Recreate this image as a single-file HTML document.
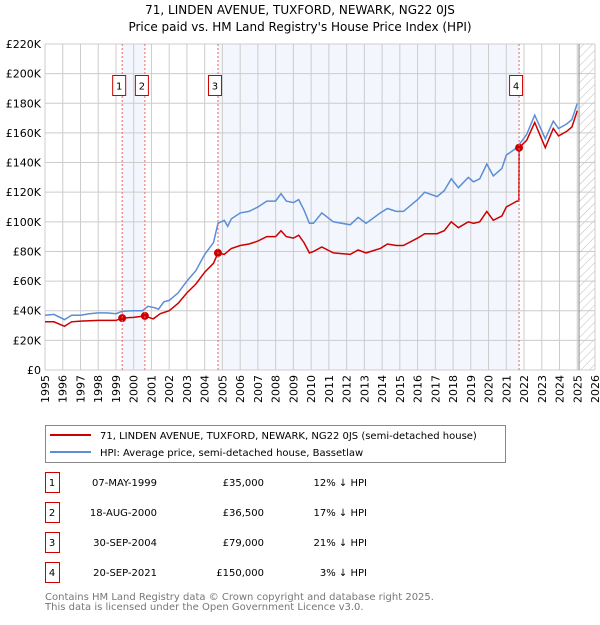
<!DOCTYPE html>
<html><head><meta charset="utf-8"><style>
body{margin:0;background:#fff;font-family:"Liberation Sans","DejaVu Sans",sans-serif;}
svg text{font-family:"DejaVu Sans","Liberation Sans",sans-serif;}
</style></head><body>
<svg id="chart" width="600" height="620" xmlns="http://www.w3.org/2000/svg">
<defs><pattern id="hatch" width="6" height="6" patternUnits="userSpaceOnUse" patternTransform="rotate(45)"><line x1="0" y1="0" x2="0" y2="6" stroke="#bbb" stroke-width="1"/></pattern></defs>
<text x="300" y="14" text-anchor="middle" font-size="12">71, LINDEN AVENUE, TUXFORD, NEWARK, NG22 0JS</text>
<text x="300" y="31" text-anchor="middle" font-size="12">Price paid vs. HM Land Registry's House Price Index (HPI)</text>
<g id="bands"></g><g id="grid"></g><g id="series"></g><g id="marks"></g>
<g>
<rect x="45.5" y="425.5" width="460" height="37" fill="#fff" stroke="#888"/>
<line x1="50" y1="435" x2="91" y2="435" stroke="#cc0000" stroke-width="2"/>
<text x="100" y="439" font-size="10">71, LINDEN AVENUE, TUXFORD, NEWARK, NG22 0JS (semi-detached house)</text>
<line x1="50" y1="452" x2="91" y2="452" stroke="#5b8ed6" stroke-width="2"/>
<text x="100" y="456" font-size="10">HPI: Average price, semi-detached house, Bassetlaw</text>
</g>
<g id="table" font-size="10"></g>
<text x="45" y="600" font-size="10" fill="#777">Contains HM Land Registry data © Crown copyright and database right 2025.</text>
<text x="45" y="610" font-size="10" fill="#777">This data is licensed under the Open Government Licence v3.0.</text>
</svg>
<script>
const hpiYears=[1995,1995.5,1996.1,1996.5,1997,1997.5,1998,1998.5,1999,1999.35,2000,2000.5,2000.8,2001.2,2001.4,2001.7,2002,2002.5,2003,2003.5,2004,2004.5,2004.75,2005.1,2005.3,2005.5,2006,2006.5,2007,2007.5,2008,2008.3,2008.6,2009,2009.3,2009.6,2009.9,2010.13,2010.6,2011.25,2012.2,2012.65,2013.1,2013.9,2014.3,2014.8,2015.2,2016,2016.4,2017.1,2017.5,2017.9,2018.3,2018.86,2019.15,2019.5,2019.9,2020.27,2020.75,2021,2021.6,2022.15,2022.6,2023.2,2023.65,2023.95,2024.4,2024.7,2025];
const hpiValues=[37,37.5,34,37,37,38,38.5,38.5,38,39.7,40,40,43,42,41,46,47,52,60,67,78,86,99,101,97,102,106,107,110,114,114,119,114,113,115,108,99,99,106,100,98,103,99,106,109,107,107,115,120,117,121,129,123,130,127,129,139,131,136,145,150,159,172,156,168,163,166,169,180];
const ppYears=[1995,1995.5,1996.1,1996.5,1997,1998,1999,1999.35,2000,2000.63,2001.1,2001.5,2002,2002.5,2003,2003.5,2004,2004.5,2004.75,2005.1,2005.5,2006,2006.5,2007,2007.5,2008,2008.3,2008.6,2009,2009.3,2009.6,2009.9,2010.13,2010.6,2011.25,2012.2,2012.65,2013.1,2013.9,2014.3,2014.8,2015.2,2016,2016.4,2017.1,2017.5,2017.9,2018.3,2018.86,2019.15,2019.5,2019.9,2020.27,2020.75,2021,2021.6,2021.71,2021.72,2022.15,2022.6,2023.2,2023.65,2023.95,2024.4,2024.7,2025];
const ppValues=[32.5,32.5,29.5,32.5,33,33.5,33.5,35,35.5,36.5,34.5,38,40,45,52,58,66,72,79,78,82,84,85,87,90,90,94,90,89,91,86,79,80,83,79,78,81,79,82,85,84,84,89,92,92,94,100,96,100,99,100,107,101,104,110,114,114,150,155,167,150,163,158,161,164,175];
const saleLabels=["1","2","3","4"];
const saleYears=[1999.35,2000.63,2004.75,2021.72];
const salePrices=[35,36.5,79,150];
const saleDates=["07-MAY-1999","18-AUG-2000","30-SEP-2004","20-SEP-2021"];
const salePriceText=["£35,000","£36,500","£79,000","£150,000"];
const saleDiff=["12% ↓ HPI","17% ↓ HPI","21% ↓ HPI","3% ↓ HPI"];
const yTicks=[0,20,40,60,80,100,120,140,160,180,200,220];
const xTicks=[];for(let y=1995;y<=2026;y++)xTicks.push(y);

const X0=45,X1=595,Y0=370,Y1=44,yr0=1995,yr1=2026,vMax=220;
const sx=y=>X0+(y-yr0)/(yr1-yr0)*(X1-X0);
const sy=v=>Y0-v/vMax*(Y0-Y1);
const NS="http://www.w3.org/2000/svg";
function mk(parent,tag,attrs){const e=document.createElementNS(NS,tag);for(const k in attrs)e.setAttribute(k,attrs[k]);document.getElementById(parent).appendChild(e);return e;}

let b=mk('bands','rect',{x:sx(saleYears[0]),y:Y1,width:sx(saleYears[1])-sx(saleYears[0]),height:Y0-Y1,fill:'#eef3fc',opacity:0.7});


b=mk('bands','rect',{x:sx(saleYears[2]),y:Y1,width:sx(saleYears[3])-sx(saleYears[2]),height:Y0-Y1,fill:'#eef3fc',opacity:0.7});


b=mk('bands','rect',{x:sx(2025.1),y:Y1,width:X1-sx(2025.1),height:Y0-Y1,fill:'url(#hatch)'});



yTicks.forEach(v=>{
 const l=mk('grid','line',{x1:X0,x2:X1,y1:sy(v),y2:sy(v),stroke:'#ccc','stroke-width':1});
 
 
 const t=mk('grid','text',{x:X0-4,y:sy(v)+4,'text-anchor':'end','font-size':11});
 
 
 t.textContent=v===0?'£0':'£'+v+'K';
});
xTicks.forEach(y=>{
 const l=mk('grid','line',{x1:sx(y),x2:sx(y),y1:Y1,y2:Y0,stroke:'#ccc','stroke-width':1});
 
 
 const t=mk('grid','text',{x:0,y:0,'text-anchor':'end','font-size':11,transform:`translate(${sx(y)+4},${Y0+5}) rotate(-90)`});
 
 
 t.textContent=y;
});
let vl=mk('grid','line',{x1:sx(2025.1),x2:sx(2025.1),y1:Y1,y2:Y0,stroke:'#888','stroke-width':1});



saleYears.forEach((y,i)=>{
 const l=mk('marks','line',{x1:sx(y),x2:sx(y),y1:Y1,y2:Y0,stroke:'#e66','stroke-width':1,'stroke-dasharray':'2,2'});
 
 
 const r=mk('marks','rect',{x:sx(y)-9.5,y:75.5,width:13,height:20,fill:'#fff',stroke:'#cc0000'});
 
 
 const t=mk('marks','text',{x:sx(y)-3,y:89.5,'text-anchor':'middle','font-size':10});
 
 
 t.textContent=saleLabels[i];
});

const path=(xs,vs)=>xs.map((y,i)=>(i?'L':'M')+sx(y).toFixed(1)+','+sy(vs[i]).toFixed(1)).join('');
let p=mk('series','path',{d:path(hpiYears,hpiValues),fill:'none',stroke:'#5b8ed6','stroke-width':1.5});


p=mk('series','path',{d:path(ppYears,ppValues),fill:'none',stroke:'#cc0000','stroke-width':1.5});


saleYears.forEach((y,i)=>{
 const c=mk('series','circle',{cx:sx(y),cy:sy(salePrices[i]),r:4,fill:'#cc0000'});
 
 
});

saleLabels.forEach((s,i)=>{
 const yy=483+i*30;
 const r=mk('table','rect',{x:45.5,y:yy-10.5,width:14,height:20,fill:'#fff',stroke:'#cc0000'});
 
 
 const cells=[[52,'middle',s],[157,'end',saleDates[i]],[264,'end',salePriceText[i]],[367,'end',saleDiff[i]]];
 cells.forEach(([x,a,txt],j)=>{
  const t=mk('table','text',{x:x,y:yy+3,'text-anchor':a,'font-size':10});
  
  
  t.textContent=txt;
 });
});
</script>
</body></html>
